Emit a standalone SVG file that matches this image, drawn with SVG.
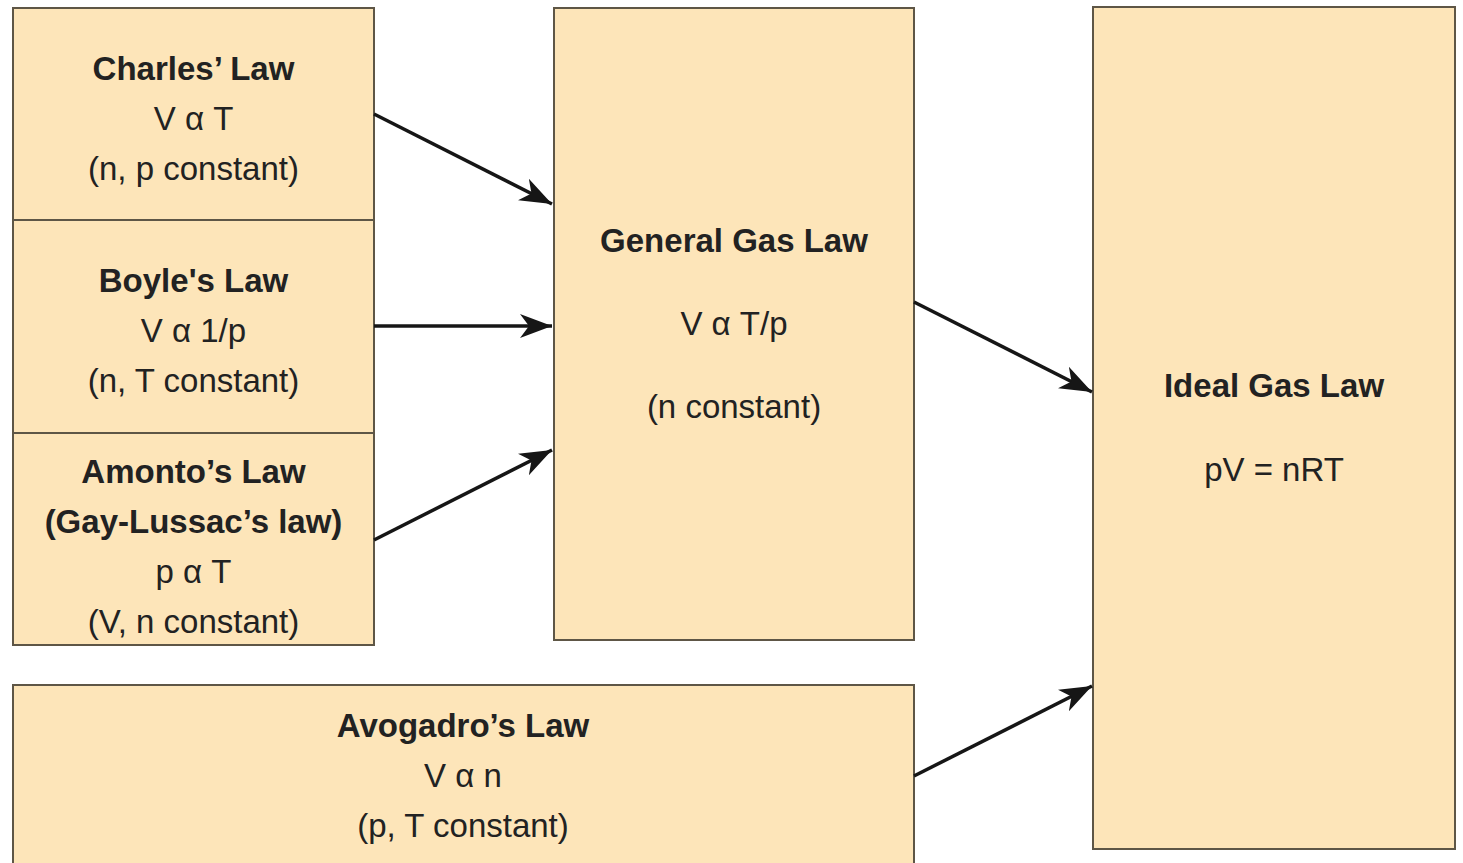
<svg xmlns="http://www.w3.org/2000/svg" width="1463" height="863" viewBox="0 0 1463 863">
<style>
.box{fill:#fde5b9;stroke:#5e5646;stroke-width:2}
.t{font-family:"Liberation Sans",Arial,sans-serif;font-size:33px;fill:#222;text-anchor:middle}
.b{font-weight:bold}
.c line{stroke:#161616;stroke-width:3.5}
</style>
<defs>
<marker id="ah" markerUnits="userSpaceOnUse" markerWidth="34" markerHeight="26" refX="32" refY="13" orient="auto">
<path d="M0,1 L32,13 L0,25 L9,13 Z" fill="#161616"/>
</marker>
</defs>
<rect width="1463" height="863" fill="#ffffff"/>
<g id="charles">
<rect class="box" x="13" y="8" width="361" height="212"/>
<text class="t b" x="193.5" y="80">Charles’ Law</text>
<text class="t" x="193.5" y="130">V α T</text>
<text class="t" x="193.5" y="180">(n, p constant)</text>
</g>
<g id="boyle">
<rect class="box" x="13" y="220" width="361" height="213"/>
<text class="t b" x="193.5" y="292">Boyle's Law</text>
<text class="t" x="193.5" y="342">V α 1/p</text>
<text class="t" x="193.5" y="392">(n, T constant)</text>
</g>
<g id="amonto">
<rect class="box" x="13" y="433" width="361" height="212"/>
<text class="t b" x="193.5" y="483">Amonto’s Law</text>
<text class="t b" x="193.5" y="533">(Gay-Lussac’s law)</text>
<text class="t" x="193.5" y="583">p α T</text>
<text class="t" x="193.5" y="633">(V, n constant)</text>
</g>
<g id="general">
<rect class="box" x="554" y="8" width="360" height="632"/>
<text class="t b" x="734" y="252">General Gas Law</text>
<text class="t" x="734" y="335">V α T/p</text>
<text class="t" x="734" y="418">(n constant)</text>
</g>
<g id="ideal">
<rect class="box" x="1093" y="7" width="362" height="842"/>
<text class="t b" x="1274" y="397">Ideal Gas Law</text>
<text class="t" x="1274" y="481">pV = nRT</text>
</g>
<g id="avogadro">
<rect class="box" x="13" y="685" width="901" height="190"/>
<text class="t b" x="463" y="737">Avogadro’s Law</text>
<text class="t" x="463" y="787">V α n</text>
<text class="t" x="463" y="837">(p, T constant)</text>
</g>
<g id="connectors" class="c">
<line x1="374" y1="114" x2="552" y2="204" marker-end="url(#ah)"/>
<line x1="374" y1="326" x2="552" y2="326" marker-end="url(#ah)"/>
<line x1="374" y1="540" x2="552" y2="450" marker-end="url(#ah)"/>
<line x1="914" y1="302" x2="1092" y2="392" marker-end="url(#ah)"/>
<line x1="914" y1="776" x2="1092" y2="686" marker-end="url(#ah)"/>
</g>
</svg>
